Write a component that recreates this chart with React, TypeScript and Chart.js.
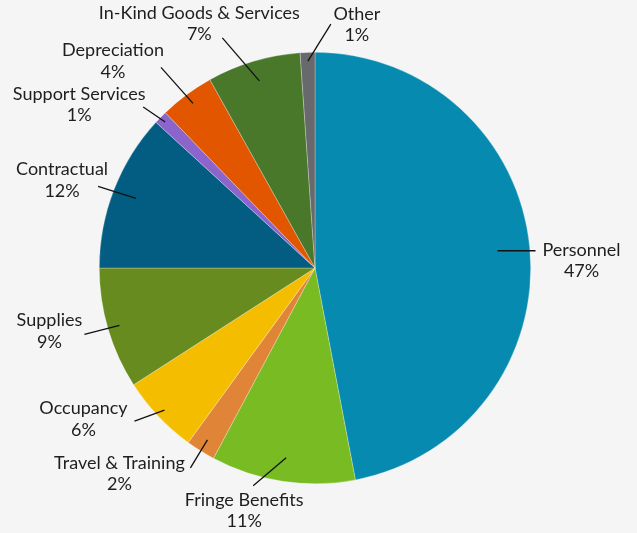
import React, { useEffect, useRef } from "react";
import { Chart, registerables } from "chart.js";

Chart.register(...registerables);

const categories = [
  "Personnel",
  "Fringe Benefits",
  "Travel & Training",
  "Occupancy",
  "Supplies",
  "Contractual",
  "Support Services",
  "Depreciation",
  "In-Kind Goods & Services",
  "Other",
];
const values = [47.0, 10.8, 2.2, 5.9, 9.1, 11.8, 1.0, 4.1, 7.0, 1.1];
const colors = [
  "#078aaf",
  "#78bb22",
  "#e08538",
  "#f5bd00",
  "#678b1e",
  "#035d82",
  "#8b65cc",
  "#e35600",
  "#4a782a",
  "#67696c",
];

// label layout: radius factor of leader start, leader end offset, text offset from leader end
const leaderLayout = [
  { rf: 0.85, dx: 38, dy: 0, tx: 46, ty: -1 },
  { rf: 0.89, dx: -33, dy: 28, tx: -9, ty: 14 },
  { rf: 0.94, dx: -17, dy: 28, tx: -71, ty: -5 },
  { rf: 0.96, dx: -30, dy: 11, tx: -51, ty: -13 },
  { rf: 0.945, dx: -35, dy: 9, tx: -35, ty: -14 },
  { rf: 0.89, dx: -38, dy: -12, tx: -36, ty: -17 },
  { rf: 0.97, dx: -22, dy: -15, tx: -64, ty: -13 },
  { rf: 0.95, dx: -32, dy: -36, tx: -48, ty: -17 },
  { rf: 0.905, dx: -37, dy: -43, tx: -23, ty: -25 },
  { rf: 0.96, dx: 23, dy: -37, tx: 26, ty: -10 },
];

const labelPlugin = {
  id: "leaderLabels",
  afterDatasetsDraw(chart: any) {
    const ctx = chart.ctx;
    const meta = chart.getDatasetMeta(0);
    const total = values.reduce((a, b) => a + b, 0);
    ctx.save();
    meta.data.forEach((arc: any, i: number) => {
      const lay = leaderLayout[i];
      const mid = (arc.startAngle + arc.endAngle) / 2;
      const sx = arc.x + Math.cos(mid) * arc.outerRadius * lay.rf;
      const sy = arc.y + Math.sin(mid) * arc.outerRadius * lay.rf;
      const ex = sx + lay.dx;
      const ey = sy + lay.dy;
      ctx.beginPath();
      ctx.moveTo(sx, sy);
      ctx.lineTo(ex, ey);
      ctx.strokeStyle = "#111";
      ctx.lineWidth = 1.3;
      ctx.stroke();
      const pct = Math.round((values[i] / total) * 100) + "%";
      ctx.fillStyle = "#1e1e1e";
      ctx.font = "18px Lato";
      ctx.textAlign = "center";
      ctx.textBaseline = "middle";
      ctx.fillText(categories[i], ex + lay.tx, ey + lay.ty);
      ctx.fillText(pct, ex + lay.tx, ey + lay.ty + 21.5);
    });
    ctx.restore();
  },
};

export default function App() {
  const ref = useRef<HTMLCanvasElement>(null);
  useEffect(() => {
    if (!ref.current) return;
    const chart = new Chart(ref.current, {
      type: "pie",
      data: {
        labels: categories,
        datasets: [
          {
            data: values,
            backgroundColor: colors,
            borderColor: "rgba(255,255,255,0.45)",
            borderWidth: 0.6,
          },
        ],
      },
      options: {
        responsive: false,
        animation: false,
        devicePixelRatio: 1,
        layout: { padding: { left: 99, right: 106, top: 52, bottom: 49 } },
        plugins: {
          legend: { display: false },
          tooltip: { enabled: false },
        },
      },
      plugins: [labelPlugin],
    });
    return () => chart.destroy();
  }, []);
  return (
    <div
      style={{
        position: "fixed",
        left: 0,
        top: 0,
        width: 637,
        height: 533,
        background: "#f5f5f5",
      }}
    >
      <canvas ref={ref} width={637} height={533} style={{ width: 637, height: 533, display: "block" }} />
    </div>
  );
}
